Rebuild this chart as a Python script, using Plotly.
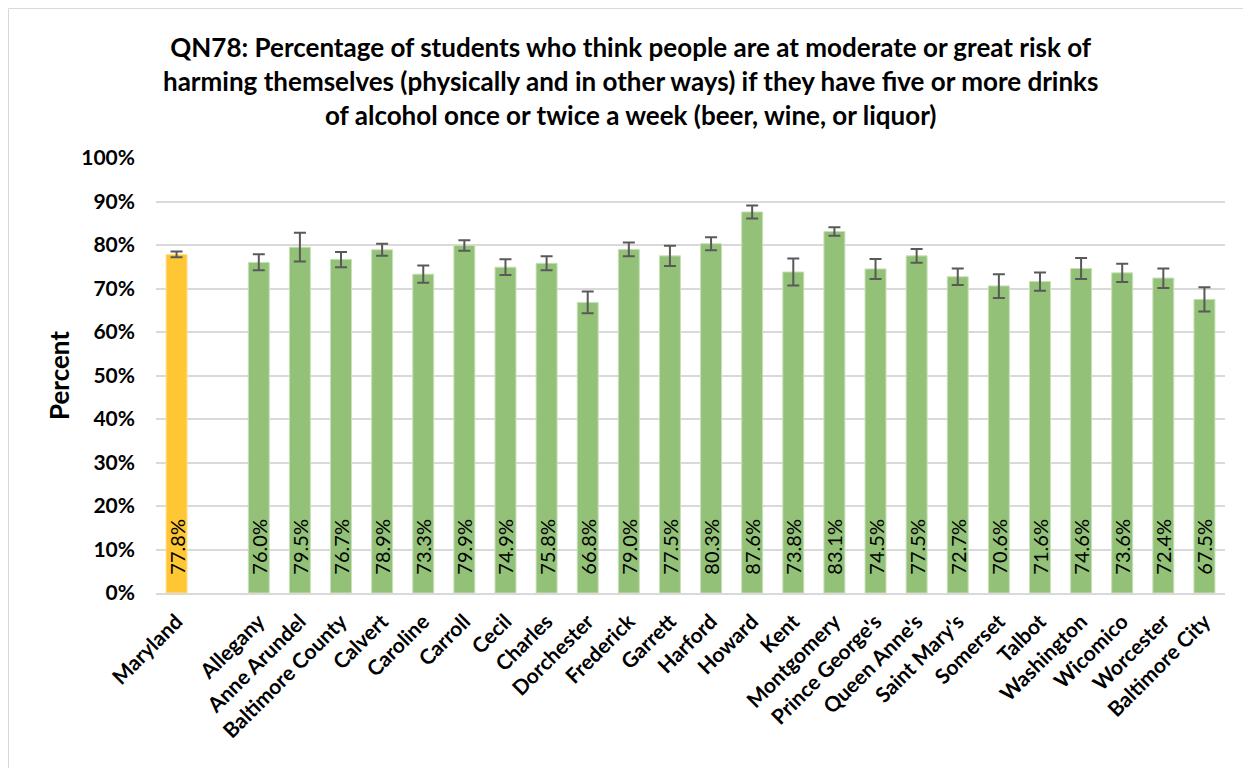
import plotly.graph_objects as go

categories = ["Maryland", " ", "Allegany", "Anne Arundel", "Baltimore County", "Calvert",
              "Caroline", "Carroll", "Cecil", "Charles", "Dorchester", "Frederick",
              "Garrett", "Harford", "Howard", "Kent", "Montgomery", "Prince George's",
              "Queen Anne's", "Saint Mary's", "Somerset", "Talbot", "Washington",
              "Wicomico", "Worcester", "Baltimore City"]
values = [77.8, None, 76.0, 79.5, 76.7, 78.9, 73.3, 79.9, 74.9, 75.8, 66.8, 79.0,
          77.5, 80.3, 87.6, 73.8, 83.1, 74.5, 77.5, 72.7, 70.6, 71.6, 74.6,
          73.6, 72.4, 67.5]
err_plus = [0.7, None, 1.9, 3.3, 1.7, 1.4, 2.0, 1.2, 1.8, 1.6, 2.5, 1.6,
            2.3, 1.5, 1.5, 3.1, 1.0, 2.3, 1.6, 1.9, 2.7, 2.1, 2.4,
            2.1, 2.2, 2.8]
err_minus = [0.6, None, 1.8, 3.3, 1.8, 1.4, 2.0, 1.2, 1.8, 1.6, 2.5, 1.6,
             2.3, 1.5, 1.5, 3.1, 1.0, 2.3, 1.6, 1.9, 2.8, 2.1, 2.4,
             2.1, 2.3, 2.8]
state_color = "#FFC733"
county_color = "#93C178"

FONT = "Lato, Open Sans, sans-serif"
colors = [state_color if c == "Maryland" else county_color for c in categories]
line_colors = ["#FFE08F" if c == "Maryland" else "#C9E0B9" for c in categories]
labels = ["" if v is None else "\u00a0\u00a0\u00a0" + f"{v:.1f}%" for v in values]

fig = go.Figure()
fig.add_trace(go.Bar(
    x=categories, y=values,
    marker=dict(color=colors, line=dict(color=line_colors, width=1)),
    text=labels, textposition="inside", insidetextanchor="start", textangle=-90,
    textfont=dict(family=FONT, size=20, color="black"),
    error_y=dict(type="data", symmetric=False, array=err_plus, arrayminus=err_minus,
                 color="#595959", thickness=2, width=6),
    hoverinfo="x+y",
))

# page has an 8px body margin, so the figure is sized/margined to compensate
fig.update_layout(
    width=1243, height=761,
    paper_bgcolor="white", plot_bgcolor="white",
    margin=dict(l=148, r=26, t=150, b=176),
    bargap=0.49,
    showlegend=False,
    font=dict(family=FONT, color="black"),
    title=dict(
        text="<b>QN78: Percentage of students who think people are at moderate or great risk of<br>"
             "harming themselves (physically and in other ways) if they have five or more drinks<br>"
             "of alcohol once or twice a week (beer, wine, or liquor)</b>",
        x=0.501, xanchor="center", y=0.935, yanchor="top",
        font=dict(size=26, family=FONT, color="black"),
    ),
    uniformtext=dict(minsize=20, mode="show"),
)
fig.update_xaxes(
    type="category", tickangle=-45, ticklabelstandoff=6,
    tickfont=dict(size=21, family=FONT, color="black", weight="bold"),
    showline=True, linecolor="#D9D9D9", linewidth=2, ticks="", showgrid=False,
)
fig.update_yaxes(
    range=[0, 100], dtick=10, ticksuffix="%", ticklabelstandoff=20,
    tickfont=dict(size=21, family=FONT, color="black", weight="bold"),
    showgrid=True, gridcolor="#D9D9D9", gridwidth=2, zeroline=False,
    title=dict(text="<b>Percent</b>", font=dict(size=26, color="black"), standoff=4),
    ticks="",
)
# chart frame (left and top edges)
fig.add_shape(type="line", xref="paper", yref="paper",
              x0=-147.5 / 1069, x1=-147.5 / 1069, y0=-175 / 435, y1=(435 + 149.5) / 435,
              line=dict(color="#D9D9D9", width=1))
fig.add_shape(type="line", xref="paper", yref="paper",
              x0=-147.5 / 1069, x1=(1069 + 26) / 1069, y0=(435 + 149.5) / 435, y1=(435 + 149.5) / 435,
              line=dict(color="#D9D9D9", width=1))

fig.write_html("out.html")
